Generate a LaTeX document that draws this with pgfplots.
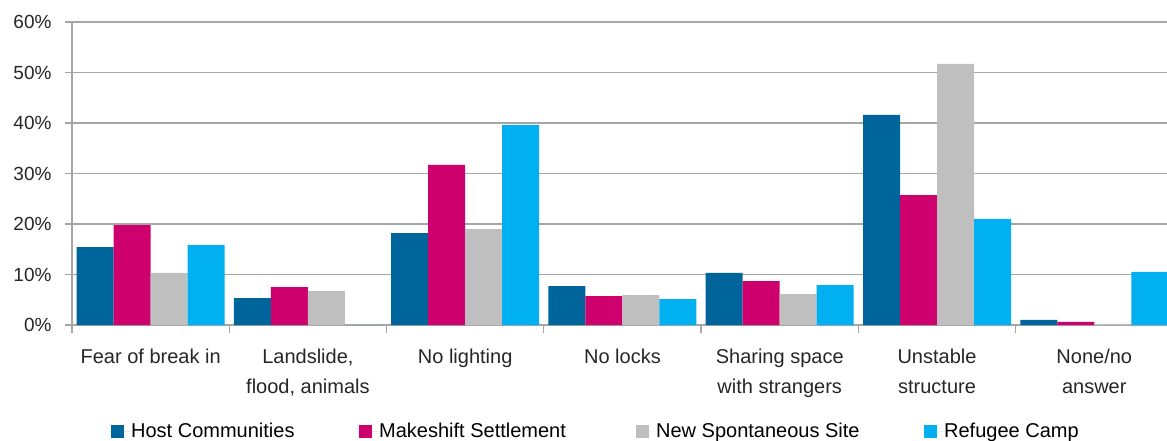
\documentclass[border=0pt]{standalone}
\usepackage{fontspec}
\setmainfont{Liberation Sans}
\usepackage{pgfplots}
\pgfplotsset{compat=1.18}
\definecolor{host}{RGB}{0,101,154}
\definecolor{mks}{RGB}{206,0,110}
\definecolor{nss}{RGB}{191,191,191}
\definecolor{refc}{RGB}{0,176,240}
\definecolor{gridc}{RGB}{166,166,166}
\pgfplotsset{sqlegend/.style={legend image code/.code={%
  \fill[##1] (0pt,-6.5pt) rectangle (13pt,6.5pt);
  \path (0pt,0pt) -- (20pt,0pt);}}}
\begin{document}
\begin{tikzpicture}
\begin{axis}[
  at={(0,0)}, anchor=south west,
  scale only axis, width=1101pt, height=303pt,
  xmin=-0.5, xmax=6.5, ymin=0, ymax=60,
  ybar=0pt, bar width=37pt,
  axis x line*=bottom, axis y line*=left,
  axis line style={gridc, line width=1.2pt},
  tick align=outside, major tick length=7pt,
  ytick={0,10,...,60},
  yticklabel={\pgfmathprintnumber{\tick}\%},
  /pgf/number format/assume math mode=true,
  yticklabel style={font=\fontsize{19}{22}\selectfont, text=black!85, xshift=-10pt},
  ytick style={draw=gridc, line width=1.2pt},
  ymajorgrids, grid style={gridc, line width=1.2pt},
  xtick={0,...,6},
  xticklabels={Fear of break in, {Landslide,\\flood, animals}, No lighting, No locks, {Sharing space\\with strangers}, {Unstable\\structure}, {None/no\\answer}},
  xticklabel style={align=center, font=\fontsize{20}{30}\selectfont, text=black!85, yshift=-13pt},
  xtick style={draw=none},
  extra x ticks={-0.5,0.5,...,6.5},
  extra x tick labels={},
  extra x tick style={xtick style={draw=gridc, line width=1.2pt}, major tick length=8pt},
  legend columns=4,
  legend style={at={(0.0354,-0.317)}, anchor=north west, draw=none, inner sep=0pt,
    font=\fontsize{20}{24}\selectfont, column sep=0pt,
    nodes={inner xsep=0pt}},
]
\addplot[fill=host, draw=none, sqlegend] coordinates {(0,15.4) (1,5.3) (2,18.2) (3,7.7) (4,10.3) (5,41.6) (6,1.0)};
\addlegendentry{\makebox[228pt][l]{Host Communities}}
\addplot[fill=mks, draw=none, sqlegend] coordinates {(0,19.8) (1,7.5) (2,31.7) (3,5.7) (4,8.7) (5,25.7) (6,0.6)};
\addlegendentry{\makebox[257pt][l]{Makeshift Settlement}}
\addplot[fill=nss, draw=none, sqlegend] coordinates {(0,10.3) (1,6.7) (2,19.0) (3,5.9) (4,6.1) (5,51.7) (6,0.2)};
\addlegendentry{\makebox[268pt][l]{New Spontaneous Site}}
\addplot[fill=refc, draw=none, sqlegend] coordinates {(0,15.8) (1,0) (2,39.6) (3,5.1) (4,7.9) (5,21.0) (6,10.5)};
\addlegendentry{Refugee Camp}
\end{axis}
\pgfresetboundingbox
\path[use as bounding box] (-72pt,-116pt) rectangle (1095pt,325pt);
\end{tikzpicture}
\end{document}
